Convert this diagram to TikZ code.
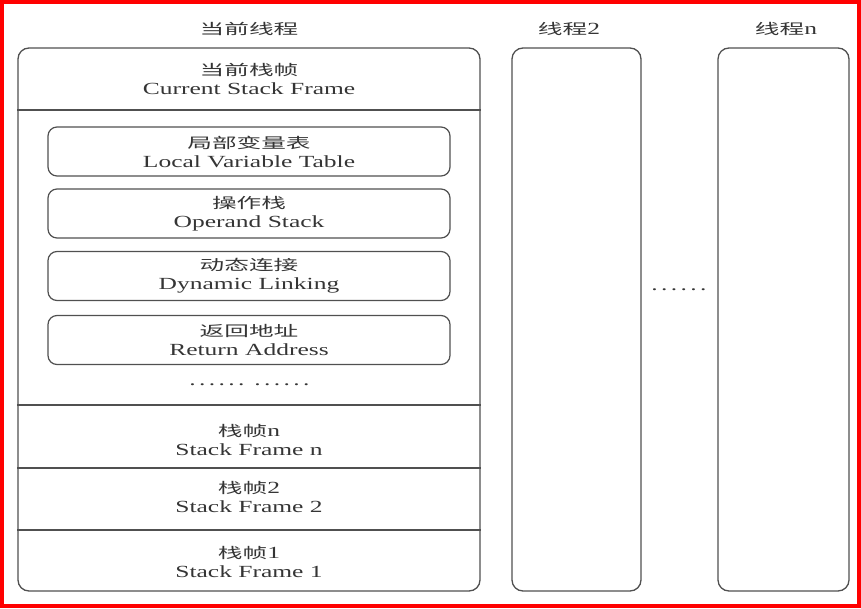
\documentclass[tikz,border=0pt]{standalone}
\usepackage{fontspec}
\setmainfont{Liberation Serif}[FakeStretch=1.5]
\newfontfamily\cjk{Noto Sans CJK SC}[FakeStretch=1.7]
\newfontfamily\dotfont{Liberation Serif}[FakeStretch=1.5,LetterSpace=20]
\newcommand{\zh}[1]{{\cjk\fontsize{14.5}{19}\selectfont #1}}
\definecolor{linegray}{HTML}{505050}
\definecolor{textgray}{HTML}{353535}

\begin{document}
\begin{tikzpicture}[x=1pt,y=-1pt]
\tikzstyle{every node}+=[inner sep=0pt, text=textgray, align=center, font=\fontsize{17}{19}\selectfont]
\tikzstyle{thread}=[draw=linegray, line width=1.3pt, rounded corners=11pt]
\tikzstyle{slot}=[draw=linegray, line width=1.2pt, rounded corners=9pt, minimum width=402pt, minimum height=49pt]
\useasboundingbox (0,0) rectangle (861,608);
\draw [red, line width=3.6pt] (1.8,1.8) rectangle (859.2,606.2);
% threads
\draw (249,29) node (tcur) {\zh{当前线程}};
\draw (569,29) node (ttwo) {\zh{线程}2};
\draw (786,29) node (tn) {\zh{线程}n};
\node [thread, minimum width=462pt, minimum height=543pt] (cur) at (249,319.5) {};
\node [thread, minimum width=129pt, minimum height=543pt] (two) at (576.5,319.5) {};
\node [thread, minimum width=131pt, minimum height=543pt] (thn) at (783.5,319.5) {};
\draw (679,290) node (tdots) {\dotfont ......};
% frames of the current thread
\draw [linegray, line width=1.2pt] (cur.west |- 0,110) -- (cur.east |- 0,110);
\draw [linegray, line width=1.2pt] (cur.west |- 0,405) -- (cur.east |- 0,405);
\draw [linegray, line width=1.2pt] (cur.west |- 0,468) -- (cur.east |- 0,468);
\draw [linegray, line width=1.2pt] (cur.west |- 0,530) -- (cur.east |- 0,530);
\draw (249,79) node (csf) {\zh{当前栈帧}\\Current Stack Frame};
\node [slot] (lvt) at (249,151.5) {\zh{局部变量表}\\Local Variable Table};
\node [slot] (ops) at (249,213.5) {\zh{操作栈}\\Operand Stack};
\node [slot] (dyn) at (249,276) {\zh{动态连接}\\Dynamic Linking};
\node [slot] (ret) at (249,340) {\zh{返回地址}\\Return Address};
\draw (217,385) node (fdots1) {\dotfont ......};
\draw (282,385) node (fdots2) {\dotfont ......};
\draw (249,439.5) node (sfn) {\zh{栈帧}n\\Stack Frame n};
\draw (249,497) node (sftwo) {\zh{栈帧}2\\Stack Frame 2};
\draw (249,562) node (sfone) {\zh{栈帧}1\\Stack Frame 1};
\end{tikzpicture}
\end{document}
